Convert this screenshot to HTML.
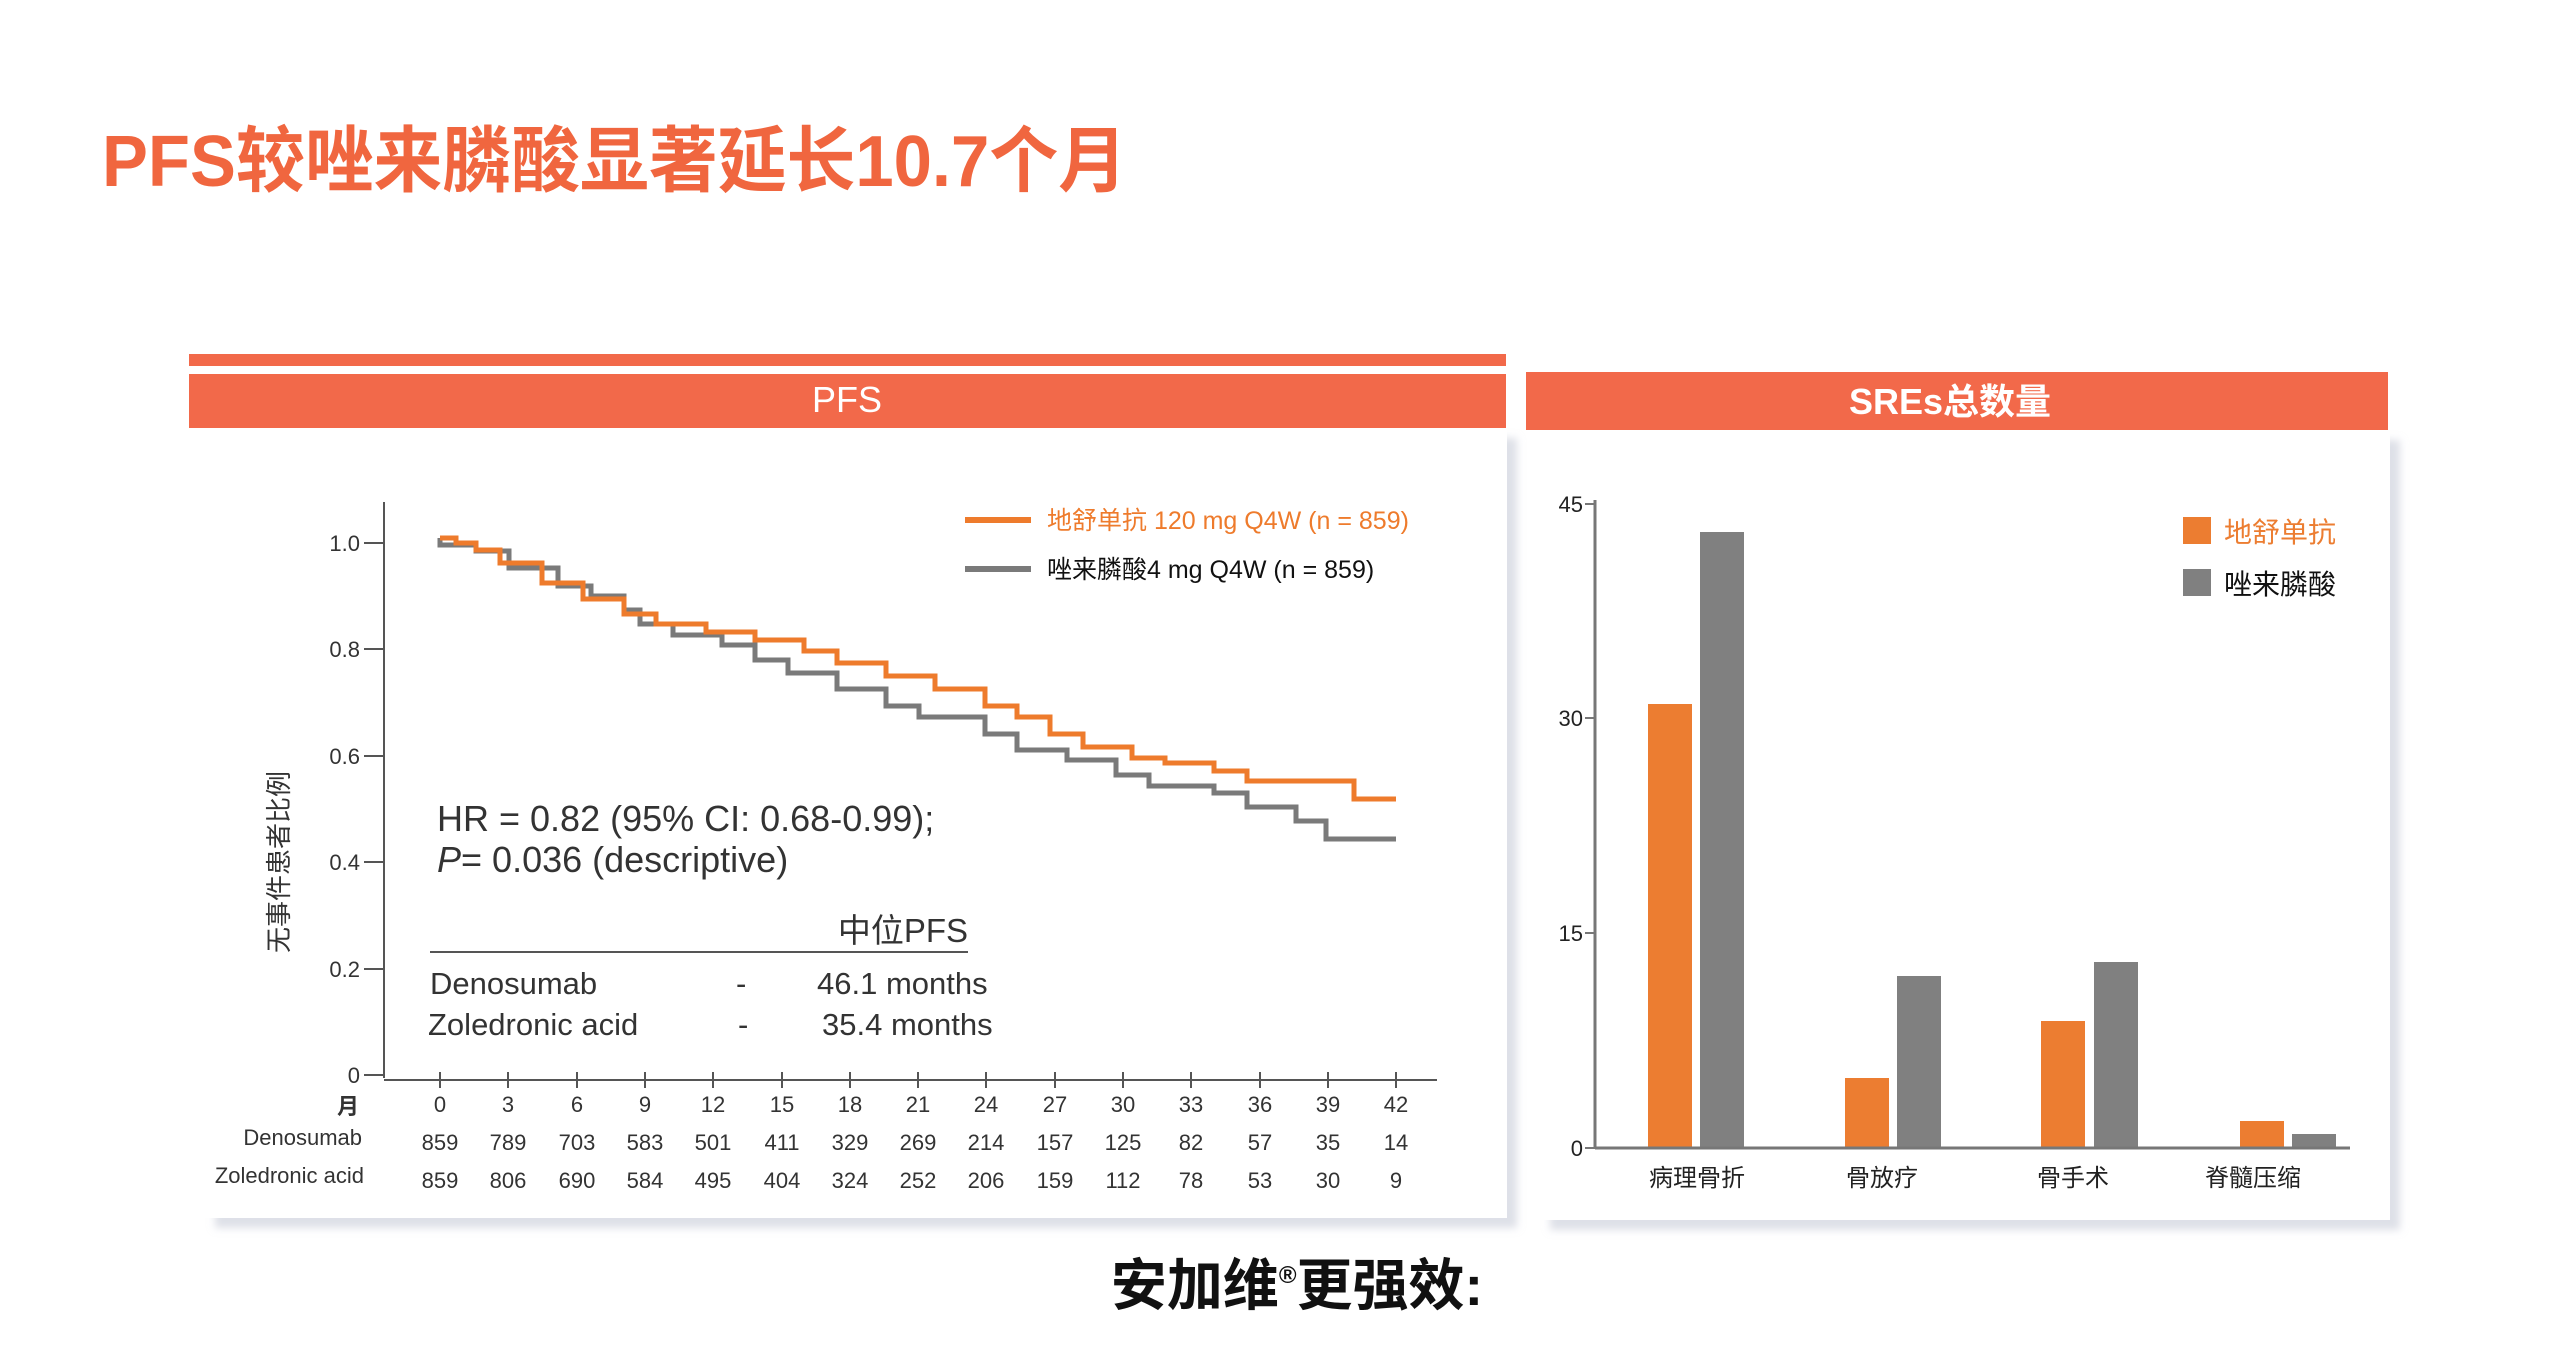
<!DOCTYPE html>
<html><head><meta charset="utf-8"><style>
html,body{margin:0;padding:0;background:#fff;}
svg{display:block;}
text{font-family:"Liberation Sans","Noto Sans CJK SC",sans-serif;}
</style></head><body>
<svg width="2560" height="1347" viewBox="0 0 2560 1347" xmlns="http://www.w3.org/2000/svg">
<defs>
<filter id="sh" x="-5%" y="-5%" width="115%" height="115%"><feDropShadow dx="10" dy="10" stdDeviation="4" flood-color="#c8ccd8" flood-opacity="0.6"/></filter>
</defs>
<rect width="2560" height="1347" fill="#fff"/>
<text x="102" y="186" font-size="72" font-weight="bold" fill="#F0663F" textLength="1025" lengthAdjust="spacingAndGlyphs">PFS较唑来膦酸显著延长10.7个月</text>

<!-- panels -->
<rect x="205" y="428" width="1302" height="790" fill="#fff" filter="url(#sh)"/>
<rect x="1540" y="430" width="850" height="790" fill="#fff" filter="url(#sh)"/>
<rect x="189" y="354" width="1317" height="12" fill="#F2694A"/>
<rect x="189" y="374" width="1317" height="54" fill="#F2694A"/>
<text x="847" y="412" font-size="36" fill="#fff" text-anchor="middle">PFS</text>
<rect x="1526" y="372" width="862" height="58" fill="#F2694A"/>
<text x="1950" y="414" font-size="36" font-weight="bold" fill="#fff" text-anchor="middle">SREs总数量</text>

<!-- PFS axes -->
<g stroke="#555" stroke-width="2" fill="none">
<line x1="384" y1="502" x2="384" y2="1078"/>
<line x1="384" y1="1080" x2="1437" y2="1080"/>
<line x1="364" y1="543" x2="384" y2="543"/>
<line x1="364" y1="649" x2="384" y2="649"/>
<line x1="364" y1="756" x2="384" y2="756"/>
<line x1="364" y1="862" x2="384" y2="862"/>
<line x1="364" y1="969" x2="384" y2="969"/>
<line x1="364" y1="1075" x2="384" y2="1075"/>
</g>
<g font-size="22" fill="#333" text-anchor="end">
<text x="360" y="551">1.0</text><text x="360" y="657">0.8</text><text x="360" y="764">0.6</text>
<text x="360" y="870">0.4</text><text x="360" y="977">0.2</text><text x="360" y="1083">0</text>
</g>
<text transform="translate(288,862) rotate(-90)" font-size="26" fill="#333" text-anchor="middle">无事件患者比例</text>
<g stroke="#555" stroke-width="2">
<line x1="440" y1="1072" x2="440" y2="1088"/><line x1="508" y1="1072" x2="508" y2="1088"/><line x1="577" y1="1072" x2="577" y2="1088"/><line x1="645" y1="1072" x2="645" y2="1088"/><line x1="713" y1="1072" x2="713" y2="1088"/><line x1="782" y1="1072" x2="782" y2="1088"/><line x1="850" y1="1072" x2="850" y2="1088"/><line x1="918" y1="1072" x2="918" y2="1088"/><line x1="986" y1="1072" x2="986" y2="1088"/><line x1="1055" y1="1072" x2="1055" y2="1088"/><line x1="1123" y1="1072" x2="1123" y2="1088"/><line x1="1191" y1="1072" x2="1191" y2="1088"/><line x1="1260" y1="1072" x2="1260" y2="1088"/><line x1="1328" y1="1072" x2="1328" y2="1088"/><line x1="1396" y1="1072" x2="1396" y2="1088"/>
</g>
<g font-size="22" fill="#333" text-anchor="middle">
<text x="348" y="1114" font-weight="bold">月</text>
<text x="440" y="1112">0</text><text x="508" y="1112">3</text><text x="577" y="1112">6</text><text x="645" y="1112">9</text><text x="713" y="1112">12</text><text x="782" y="1112">15</text><text x="850" y="1112">18</text><text x="918" y="1112">21</text><text x="986" y="1112">24</text><text x="1055" y="1112">27</text><text x="1123" y="1112">30</text><text x="1191" y="1112">33</text><text x="1260" y="1112">36</text><text x="1328" y="1112">39</text><text x="1396" y="1112">42</text>
<text x="440" y="1150">859</text><text x="508" y="1150">789</text><text x="577" y="1150">703</text><text x="645" y="1150">583</text><text x="713" y="1150">501</text><text x="782" y="1150">411</text><text x="850" y="1150">329</text><text x="918" y="1150">269</text><text x="986" y="1150">214</text><text x="1055" y="1150">157</text><text x="1123" y="1150">125</text><text x="1191" y="1150">82</text><text x="1260" y="1150">57</text><text x="1328" y="1150">35</text><text x="1396" y="1150">14</text>
<text x="440" y="1188">859</text><text x="508" y="1188">806</text><text x="577" y="1188">690</text><text x="645" y="1188">584</text><text x="713" y="1188">495</text><text x="782" y="1188">404</text><text x="850" y="1188">324</text><text x="918" y="1188">252</text><text x="986" y="1188">206</text><text x="1055" y="1188">159</text><text x="1123" y="1188">112</text><text x="1191" y="1188">78</text><text x="1260" y="1188">53</text><text x="1328" y="1188">30</text><text x="1396" y="1188">9</text>
</g>
<g font-size="22" fill="#333" text-anchor="end">
<text x="362" y="1145">Denosumab</text><text x="364" y="1183">Zoledronic acid</text>
</g>

<!-- curves -->
<path d="M440,538 V545 H476 V551 H509 V568 H558 V586 H591 V596 H624 V610 H640 V624 H673 V635 H722 V645 H755 V660 H788 V673 H837 V689 H886 V706 H919 V717 H985 V734 H1017 V750 H1067 V760 H1116 V775 H1149 V786 H1214 V793 H1247 V807 H1296 V821 H1326 V839 H1396" stroke="#7a7a7a" stroke-width="5" fill="none"/>
<path d="M440,538 H456 V543 H476 V550 H500 V563 H542 V583 H583 V599 H624 V614 H656 V624 H706 V632 H755 V640 H804 V651 H837 V663 H886 V676 H935 V689 H985 V706 H1017 V717 H1050 V734 H1083 V747 H1132 V758 H1165 V763 H1214 V771 H1247 V781 H1354 V799 H1396" stroke="#EE7B2C" stroke-width="5" fill="none"/>

<!-- legend -->
<line x1="965" y1="520" x2="1031" y2="520" stroke="#EE7B2C" stroke-width="6"/>
<text x="1047" y="529" font-size="25" fill="#EE7B2C">地舒单抗 120 mg Q4W (n = 859)</text>
<line x1="965" y1="569" x2="1031" y2="569" stroke="#7a7a7a" stroke-width="6"/>
<text x="1047" y="578" font-size="25" fill="#111">唑来膦酸4 mg Q4W (n = 859)</text>

<text x="437" y="831" font-size="36" fill="#333">HR = 0.82 (95% CI: 0.68-0.99);</text>
<text x="437" y="872" font-size="36" fill="#333"><tspan font-style="italic">P</tspan>= 0.036 (descriptive)</text>
<text x="968" y="942" font-size="33" fill="#333" text-anchor="end">中位PFS</text>
<line x1="430" y1="952" x2="968" y2="952" stroke="#555" stroke-width="2"/>
<g font-size="31" fill="#333">
<text x="430" y="994">Denosumab</text><text x="736" y="994">-</text><text x="817" y="994">46.1 months</text>
<text x="428" y="1035">Zoledronic acid</text><text x="738" y="1035">-</text><text x="822" y="1035">35.4 months</text>
</g>

<!-- SRE chart -->
<g fill="#EC7D31">
<rect x="1648" y="704" width="44" height="444"/><rect x="1845" y="1078" width="44" height="70"/><rect x="2041" y="1021" width="44" height="127"/><rect x="2240" y="1121" width="44" height="27"/>
</g>
<g fill="#808080">
<rect x="1700" y="532" width="44" height="616"/><rect x="1897" y="976" width="44" height="172"/><rect x="2094" y="962" width="44" height="186"/><rect x="2292" y="1134" width="44" height="14"/>
</g>
<g stroke="#777" stroke-width="3" fill="none">
<line x1="1595" y1="500" x2="1595" y2="1148"/>
<line x1="1595" y1="1148" x2="2350" y2="1148"/>
</g>
<g stroke="#777" stroke-width="2">
<line x1="1585" y1="504" x2="1595" y2="504"/><line x1="1585" y1="718" x2="1595" y2="718"/><line x1="1585" y1="933" x2="1595" y2="933"/><line x1="1585" y1="1148" x2="1595" y2="1148"/>
</g>
<g font-size="22" fill="#222" text-anchor="end">
<text x="1583" y="512">45</text><text x="1583" y="726">30</text><text x="1583" y="941">15</text><text x="1583" y="1156">0</text>
</g>
<g font-size="24" fill="#222" text-anchor="middle">
<text x="1697" y="1186">病理骨折</text><text x="1882" y="1186">骨放疗</text><text x="2073" y="1186">骨手术</text><text x="2253" y="1186">脊髓压缩</text>
</g>
<rect x="2183" y="517" width="28" height="27" fill="#EC7D31"/>
<text x="2224" y="542" font-size="28" fill="#EC7D31">地舒单抗</text>
<rect x="2183" y="569" width="28" height="27" fill="#808080"/>
<text x="2224" y="594" font-size="28" fill="#111">唑来膦酸</text>

<text x="1297" y="1305" font-size="56" font-weight="bold" fill="#111" text-anchor="middle">安加维<tspan font-size="24" dy="-22">®</tspan><tspan dy="22">更强效:</tspan></text>
</svg>
</body></html>
